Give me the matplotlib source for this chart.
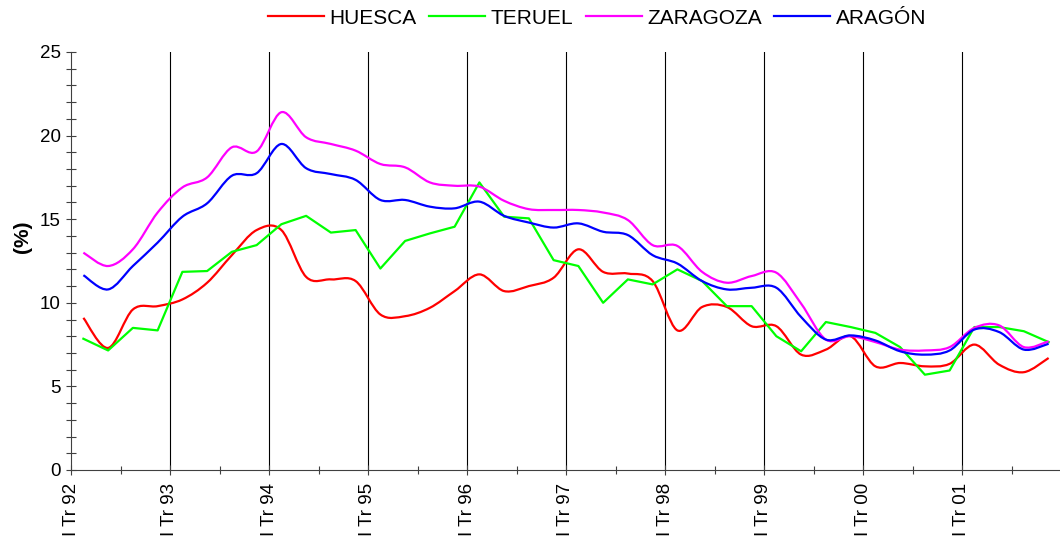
import numpy as np
import matplotlib
matplotlib.use("Agg")
import matplotlib.pyplot as plt
from matplotlib.path import Path
from matplotlib.patches import PathPatch
from matplotlib.lines import Line2D

plt.rcParams["font.family"] = ["Liberation Sans", "DejaVu Sans"]

# quarterly series, I Tr 92 .. IV Tr 01 (%)
year_labels = ["I Tr 92", "I Tr 93", "I Tr 94", "I Tr 95", "I Tr 96",
               "I Tr 97", "I Tr 98", "I Tr 99", "I Tr 00", "I Tr 01"]

huesca = [9.1, 7.3, 9.6, 9.8, 10.2, 11.2, 12.85, 14.35, 14.35, 11.55,
          11.4, 11.3, 9.3, 9.2, 9.7, 10.7, 11.7, 10.7, 11.0, 11.5,
          13.2, 11.85, 11.75, 11.3, 8.35, 9.75, 9.75, 8.6, 8.6, 6.9,
          7.2, 8.0, 6.2, 6.4, 6.2, 6.35, 7.5, 6.3, 5.85, 6.7]
teruel = [7.85, 7.15, 8.5, 8.35, 11.85, 11.9, 13.05, 13.45, 14.7, 15.2,
          14.2, 14.35, 12.05, 13.7, 14.15, 14.55, 17.2, 15.15, 15.05, 12.55,
          12.2, 10.0, 11.4, 11.1, 12.0, 11.3, 9.8, 9.8, 8.0, 7.1,
          8.85, 8.55, 8.2, 7.35, 5.7, 5.95, 8.55, 8.55, 8.3, 7.65]
zaragoza = [13.0, 12.2, 13.2, 15.4, 16.9, 17.5, 19.3, 19.05, 21.4, 19.9,
            19.5, 19.1, 18.3, 18.1, 17.2, 17.0, 16.95, 16.1, 15.6, 15.55,
            15.55, 15.4, 14.95, 13.45, 13.4, 11.85, 11.2, 11.6, 11.8, 9.95,
            7.8, 8.0, 7.65, 7.2, 7.15, 7.35, 8.5, 8.65, 7.35, 7.7]
aragon = [11.65, 10.8, 12.2, 13.6, 15.15, 15.95, 17.6, 17.75, 19.5, 18.05,
          17.7, 17.35, 16.15, 16.15, 15.75, 15.65, 16.05, 15.2, 14.8, 14.5,
          14.75, 14.25, 14.05, 12.85, 12.35, 11.3, 10.8, 10.9, 10.9, 9.15,
          7.8, 8.05, 7.75, 7.1, 6.9, 7.15, 8.4, 8.25, 7.2, 7.55]


def smooth_path(x, y):
    # excel-style smoothed line: catmull-rom as cubic bezier segments
    n = len(x)
    verts = [(x[0], y[0])]
    codes = [Path.MOVETO]
    for i in range(n - 1):
        a = max(i - 1, 0)
        d = min(i + 2, n - 1)
        c1 = (x[i] + (x[i + 1] - x[a]) / 6, y[i] + (y[i + 1] - y[a]) / 6)
        c2 = (x[i + 1] - (x[d] - x[i]) / 6, y[i + 1] - (y[d] - y[i]) / 6)
        verts += [c1, c2, (x[i + 1], y[i + 1])]
        codes += [Path.CURVE4] * 3
    return Path(verts, codes)


fig = plt.figure(figsize=(10.6, 5.42), dpi=100)
ax = fig.add_axes([71 / 1060, 1 - 470 / 542, 990 / 1060, 418 / 542])

xs = np.arange(len(huesca)) + 0.5
lw = 1.6

series = [("HUESCA", huesca, "#ff0000", True),
          ("TERUEL", teruel, "#00ff00", False),
          ("ZARAGOZA", zaragoza, "#ff00ff", True),
          ("ARAGÓN", aragon, "#0000ff", True)]

handles = []
for name, vals, col, smooth in series:
    if smooth:
        ax.add_patch(PathPatch(smooth_path(xs, vals), fill=False,
                               edgecolor=col, lw=lw, zorder=3))
    else:
        ax.plot(xs, vals, color=col, lw=lw, zorder=3)
    handles.append(Line2D([], [], color=col, lw=lw))

ax.set_xlim(0, 40)
ax.set_ylim(0, 25)

year_pos = np.arange(0, 40, 4)
for p in year_pos[1:]:
    ax.axvline(p, color="black", lw=0.8, zorder=1)

ax.set_xticks(year_pos)
ax.set_xticklabels(year_labels, rotation=90, fontsize=13.5)
ax.set_xticks(year_pos + 2, minor=True)
ax.tick_params(axis="x", which="major", direction="inout", length=7, width=0.8,
               pad=6, color="#404040")
ax.tick_params(axis="x", which="minor", direction="inout", length=6, width=0.8,
               color="#404040")

ax.set_yticks(np.arange(0, 26, 5))
ax.set_yticks(np.arange(0, 26, 1), minor=True)
ax.tick_params(axis="y", which="both", direction="inout", length=7, width=0.8,
               labelsize=13.5, pad=4, color="#404040")

for s in ["top", "right"]:
    ax.spines[s].set_visible(False)
for s in ["left", "bottom"]:
    ax.spines[s].set_color("#404040")
    ax.spines[s].set_linewidth(0.8)

ax.set_ylabel("(%)", fontsize=15, fontweight="bold")
ax.yaxis.set_label_coords(-0.039, 0.557)

fig.legend(handles, [s[0] for s in series], loc="center",
           bbox_to_anchor=(597 / 1060, 1 - 18 / 542), ncol=4, frameon=False,
           fontsize=15, handlelength=2.7, handletextpad=0.25,
           columnspacing=0.6)

fig.savefig("out.png", dpi=100)
